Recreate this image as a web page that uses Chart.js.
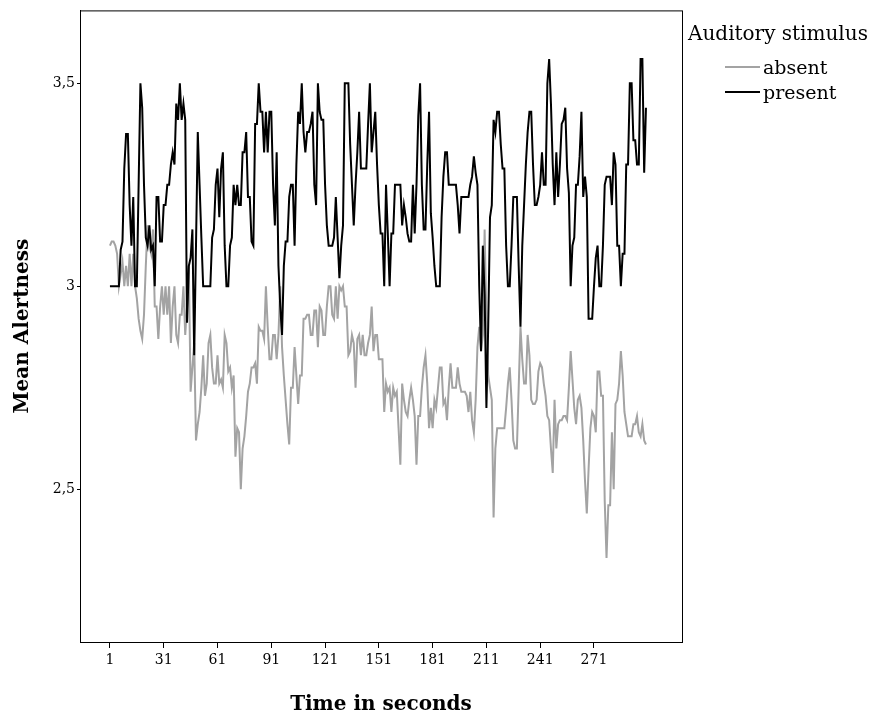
<!DOCTYPE html>
<html>
<head>
<meta charset="utf-8">
<script src="https://cdn.jsdelivr.net/npm/chart.js@4/dist/chart.umd.min.js"></script>
<style>
html, body { margin: 0; padding: 0; background: #fff; }
#caja { position: relative; width: 875px; height: 718px; }
#leyenda { position: absolute; left: 0; top: 0; font-family: "DejaVu Serif", serif; color: #000; }
#leyenda div { position: absolute; white-space: nowrap; }
.titulo { font-size: 20px; line-height: 20px; }
.item { font-size: 19px; line-height: 19px; }
.linea { position: absolute; height: 2px; width: 35px; }
</style>
</head>
<body>
<div id="caja">
  <canvas id="grafico" width="875" height="718"></canvas>
  <div id="leyenda">
    <div class="titulo" style="left:688px; top:23px;">Auditory stimulus</div>
    <span class="linea" style="left:725px; top:66px; background:#a3a3a3;"></span>
    <div class="item" style="left:763px; top:58px;">absent</div>
    <span class="linea" style="left:725px; top:91px; background:#000;"></span>
    <div class="item" style="left:763px; top:83px;">present</div>
  </div>
</div>
<script>
// valores (alerta media por segundo)
const presente = [
  3.0, 3.0, 3.0, 3.0, 3.0, 3.0, 3.09, 3.11, 3.29, 3.375, 3.375, 3.2, 3.1, 3.22, 3.0, 3.0, 3.25, 3.5, 3.44, 3.25, 3.12, 3.1, 3.15, 3.09, 3.1, 3.0,
  3.22, 3.22, 3.11, 3.11, 3.2, 3.2, 3.25, 3.25, 3.30, 3.33, 3.30, 3.45, 3.41, 3.5, 3.41, 3.45, 3.41, 2.91, 3.05, 3.07, 3.14, 2.83, 3.1, 3.38, 3.25, 3.12, 3.0,
  3.0, 3.0, 3.0, 3.0, 3.12, 3.14, 3.25, 3.29, 3.17, 3.29, 3.33, 3.1, 3.0, 3.0, 3.1, 3.12, 3.25, 3.2, 3.25, 3.2, 3.2, 3.33, 3.33, 3.38, 3.22, 3.22, 3.11, 3.10, 3.4,
  3.4, 3.5, 3.43, 3.43, 3.33, 3.43, 3.33, 3.43, 3.43, 3.25, 3.15, 3.33, 3.05, 2.95, 2.88, 3.05, 3.11, 3.11, 3.22, 3.25, 3.25, 3.1, 3.3, 3.43, 3.4, 3.5, 3.38,
  3.33, 3.38, 3.38, 3.40, 3.43, 3.25, 3.2, 3.5, 3.43, 3.41, 3.41, 3.25, 3.15, 3.1, 3.1, 3.1, 3.12, 3.22, 3.12, 3.02, 3.1, 3.15, 3.5, 3.5, 3.5, 3.35, 3.25, 3.15,
  3.25, 3.33, 3.43, 3.29, 3.29, 3.29, 3.29, 3.4, 3.5, 3.33, 3.38, 3.43, 3.3, 3.2, 3.13, 3.13, 3.0, 3.25, 3.13, 3.0, 3.13, 3.13, 3.25, 3.25, 3.25, 3.25, 3.15,
  3.2, 3.17, 3.13, 3.11, 3.11, 3.25, 3.13, 3.25, 3.42, 3.5, 3.25, 3.14, 3.14, 3.3, 3.43, 3.18, 3.12, 3.05, 3.0, 3.0, 3.0, 3.17, 3.27, 3.33, 3.33, 3.25, 3.25, 3.25,
  3.25, 3.25, 3.2, 3.13, 3.22, 3.22, 3.22, 3.22, 3.22, 3.25, 3.27, 3.32, 3.28, 3.25, 3.0, 2.84, 3.1, 2.98, 2.70, 2.9, 3.17, 3.2, 3.41, 3.38, 3.43, 3.43, 3.35, 3.29,
  3.29, 3.1, 3.0, 3.0, 3.1, 3.22, 3.22, 3.22, 3.05, 2.9, 3.1, 3.2, 3.3, 3.38, 3.43, 3.43, 3.3, 3.2, 3.2, 3.22, 3.25, 3.33, 3.25, 3.25, 3.5, 3.56, 3.45, 3.3, 3.2,
  3.33, 3.22, 3.3, 3.4, 3.41, 3.44, 3.29, 3.23, 3.0, 3.1, 3.12, 3.25, 3.25, 3.32, 3.43, 3.22, 3.27, 3.22, 2.92, 2.92, 2.92, 3.0, 3.07, 3.1, 3.0, 3.0, 3.1,
  3.25, 3.27, 3.27, 3.27, 3.2, 3.33, 3.3, 3.1, 3.1, 3.0, 3.08, 3.08, 3.3, 3.3, 3.5, 3.5, 3.36, 3.36, 3.3, 3.3, 3.56, 3.56, 3.28, 3.44
];

const ausente = [
  3.10, 3.11, 3.11, 3.10, 3.08, 3.0, 3.03, 3.06, 3.0, 3.05, 3.0, 3.08, 3.0, 3.08, 3.0, 2.97, 2.92, 2.89, 2.87, 2.93, 3.05, 3.15, 3.1, 3.08, 3.14, 2.95,
  2.95, 2.87, 2.95, 3.0, 2.93, 3.0, 2.93, 3.0, 2.86, 2.95, 3.0, 2.88, 2.86, 2.93, 2.93, 3.0, 2.88, 2.95, 3.05, 2.74, 2.8, 2.86, 2.62, 2.66, 2.69, 2.75, 2.83,
  2.73, 2.76, 2.86, 2.88, 2.80, 2.76, 2.76, 2.83, 2.76, 2.77, 2.75, 2.88, 2.86, 2.79, 2.80, 2.75, 2.78, 2.58, 2.65, 2.64, 2.50, 2.6, 2.63, 2.68, 2.74, 2.76, 2.80, 2.80, 2.81,
  2.76, 2.90, 2.89, 2.89, 2.87, 3.0, 2.9, 2.82, 2.82, 2.88, 2.88, 2.82, 2.88, 3.0, 2.85, 2.78, 2.72, 2.66, 2.61, 2.75, 2.75, 2.85, 2.78, 2.71, 2.78, 2.78, 2.92,
  2.92, 2.93, 2.93, 2.88, 2.88, 2.94, 2.94, 2.85, 2.95, 2.94, 2.88, 2.88, 2.95, 3.0, 3.0, 2.93, 2.92, 3.0, 2.92, 3.0, 2.99, 3.0, 2.95, 2.95, 2.83, 2.84, 2.88, 2.86,
  2.75, 2.87, 2.88, 2.83, 2.88, 2.83, 2.83, 2.86, 2.88, 2.95, 2.84, 2.88, 2.88, 2.82, 2.82, 2.82, 2.69, 2.76, 2.74, 2.75, 2.69, 2.75, 2.73, 2.74, 2.65, 2.56, 2.76,
  2.72, 2.69, 2.68, 2.72, 2.75, 2.72, 2.68, 2.56, 2.68, 2.68, 2.75, 2.8, 2.83, 2.76, 2.65, 2.7, 2.65, 2.72, 2.7, 2.75, 2.8, 2.8, 2.71, 2.72, 2.67, 2.75, 2.81, 2.75,
  2.75, 2.75, 2.8, 2.76, 2.74, 2.74, 2.74, 2.73, 2.69, 2.74, 2.67, 2.64, 2.72, 2.85, 2.9, 2.84, 2.88, 3.14, 2.92, 2.78, 2.75, 2.72, 2.43, 2.6, 2.65, 2.65, 2.65, 2.65,
  2.65, 2.7, 2.76, 2.8, 2.72, 2.62, 2.6, 2.6, 2.75, 2.9, 2.82, 2.76, 2.76, 2.88, 2.83, 2.72, 2.71, 2.71, 2.72, 2.79, 2.81, 2.8, 2.76, 2.73, 2.68, 2.67, 2.6, 2.54, 2.72,
  2.6, 2.66, 2.67, 2.67, 2.68, 2.68, 2.67, 2.75, 2.84, 2.77, 2.7, 2.66, 2.72, 2.73, 2.7, 2.62, 2.52, 2.44, 2.55, 2.65, 2.69, 2.68, 2.64, 2.79, 2.79, 2.73, 2.73,
  2.47, 2.33, 2.46, 2.46, 2.64, 2.5, 2.71, 2.72, 2.76, 2.84, 2.78, 2.69, 2.66, 2.63, 2.63, 2.63, 2.66, 2.66, 2.68, 2.64, 2.63, 2.66, 2.62, 2.61
];

// segundo 1..300
const segundos = presente.map((v, i) => i + 1);

const ticksX = [1, 31, 61, 91, 121, 151, 181, 211, 241, 271];
const ticksY = [2.5, 3, 3.5];

const fuente = "'DejaVu Serif', serif";

// marco negro alrededor del area del grafico
const marco = {
  id: 'marco',
  afterDraw(chart) {
    const { ctx, chartArea } = chart;
    ctx.save();
    ctx.strokeStyle = '#000';
    ctx.lineWidth = 1;
    ctx.strokeRect(chartArea.left + 0.5, chartArea.top + 0.5, chartArea.right - chartArea.left, chartArea.bottom - chartArea.top);
    ctx.restore();
  }
};

const ctx = document.querySelector('#grafico').getContext('2d');

new Chart(ctx, {
  type: 'line',
  data: {
    datasets: [
      {
        label: 'present',
        data: presente.map((v, i) => ({ x: segundos[i], y: v })),
        borderColor: '#000',
        borderWidth: 2,
        pointRadius: 0,
        tension: 0,
        order: 0
      },
      {
        label: 'absent',
        data: ausente.map((v, i) => ({ x: segundos[i], y: v })),
        borderColor: '#a3a3a3',
        borderWidth: 2,
        pointRadius: 0,
        tension: 0,
        order: 1
      }
    ]
  },
  options: {
    responsive: false,
    animation: false,
    layout: { padding: { top: 10, right: 193, left: 0, bottom: 0 } },
    plugins: {
      legend: { display: false },
      tooltip: { enabled: false }
    },
    scales: {
      x: {
        type: 'linear',
        min: -15.7,
        max: 320.1,
        afterBuildTicks: s => { s.ticks = ticksX.map(v => ({ value: v })); },
        afterFit: s => { s.height = 76; },
        grid: { drawOnChartArea: false, drawTicks: true, tickLength: 6, color: '#000' },
        border: { color: '#000', width: 1 },
        ticks: { color: '#000', font: { family: fuente, size: 14 }, padding: 4, maxRotation: 0, autoSkip: false },
        title: { display: true, text: 'Time in seconds', color: '#000', font: { family: fuente, size: 20, weight: 'bold' }, padding: { top: 4, bottom: 1 } }
      },
      y: {
        min: 2.1232,
        max: 3.6798,
        afterBuildTicks: s => { s.ticks = ticksY.map(v => ({ value: v })); },
        afterFit: s => { s.width = 80; },
        grid: { drawOnChartArea: false, drawTicks: true, tickLength: 3, color: '#000' },
        border: { color: '#000', width: 1 },
        ticks: { color: '#000', font: { family: fuente, size: 14 }, padding: 2, callback: v => String(v).replace('.', ',') },
        title: { display: true, text: 'Mean Alertness', color: '#000', font: { family: fuente, size: 20, weight: 'bold' }, padding: { top: 11, bottom: 4 } }
      }
    }
  },
  plugins: [marco]
});
</script>
</body>
</html>
